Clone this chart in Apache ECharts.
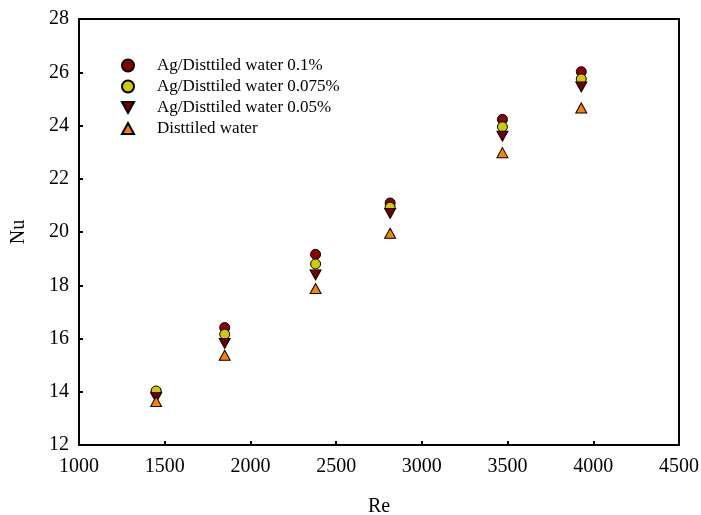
<!DOCTYPE html>
<html>
<head>
<meta charset="utf-8">
<script src="https://cdn.jsdelivr.net/npm/echarts@6/dist/echarts.min.js"></script>
<style>html,body{margin:0;padding:0;background:#fff}#c{width:701px;height:515px}</style>
</head>
<body>
<div id="c"></div>
<script>
const seriesNames = ['Ag/Disttiled water 0.1%', 'Ag/Disttiled water 0.075%', 'Ag/Disttiled water 0.05%', 'Disttiled water'];
const re = [1450, 1850, 2380, 2815, 3470, 3930];
const nu01 = [14.0, 16.41, 19.16, 21.09, 24.23, 26.02];
const nu0075 = [14.03, 16.16, 18.80, 20.93, 23.95, 25.75];
const nu005 = [13.78, 15.81, 18.39, 20.70, 23.60, 25.45];
const nuWater = [13.63, 15.37, 17.88, 19.95, 22.98, 24.66];
const xTicks = [1000, 1500, 2000, 2500, 3000, 3500, 4000, 4500];
const yTicks = [12, 14, 16, 18, 20, 22, 24, 26, 28];

const font = 'Liberation Serif, Times New Roman, serif';
const pair = arr => re.map((x, i) => [x, arr[i]]);
const downTri = 'path://M0,0 L10,0 L5,9 Z';
const upTri = 'path://M5,0 L10,9 L0,9 Z';

const chart = echarts.init(document.getElementById('c'), null, {renderer: 'canvas'});
const axisCommon = {
  axisLine: {show: true, onZero: false, lineStyle: {color: '#000', width: 2}},
  splitLine: {show: false},
};
chart.setOption({
  animation: false,
  backgroundColor: '#fff',
  grid: {left: 79, right: 22, top: 19, bottom: 70, containLabel: false, outerBoundsMode: 'none'},
  legend: {
    orient: 'vertical',
    left: 116, top: 52,
    itemWidth: 12, itemHeight: 12, itemGap: 4,
    data: seriesNames,
    textStyle: {fontFamily: font, fontSize: 17, color: '#000', padding: [0, 0, 0, 18]}
  },
  xAxis: [{
    type: 'value', min: xTicks[0], max: xTicks[xTicks.length - 1], interval: 500,
    name: 'Re', nameLocation: 'middle', nameGap: 52,
    nameTextStyle: {fontFamily: font, fontSize: 20, color: '#000'},
    axisTick: {show: true, inside: true, length: 4, lineStyle: {color: '#000', width: 2}},
    axisLabel: {fontFamily: font, fontSize: 20, color: '#000', margin: 12, formatter: v => String(v)},
    ...axisCommon
  }, {
    type: 'value', position: 'top', min: xTicks[0], max: xTicks[xTicks.length - 1],
    axisTick: {show: false}, axisLabel: {show: false}, ...axisCommon
  }],
  yAxis: [{
    type: 'value', min: yTicks[0], max: yTicks[yTicks.length - 1], interval: 2,
    name: 'Nu', nameLocation: 'middle', nameGap: 50, nameRotate: 90,
    nameTextStyle: {fontFamily: font, fontSize: 20, color: '#000'},
    axisTick: {show: true, inside: true, length: 4, lineStyle: {color: '#000', width: 2}},
    axisLabel: {fontFamily: font, fontSize: 20, color: '#000', margin: 10, formatter: v => String(v)},
    ...axisCommon
  }, {
    type: 'value', position: 'right', min: yTicks[0], max: yTicks[yTicks.length - 1],
    axisTick: {show: false}, axisLabel: {show: false}, ...axisCommon
  }],
  series: [
    {name: seriesNames[0], type: 'scatter', data: pair(nu01), symbol: 'circle', symbolSize: 10,
     itemStyle: {color: '#8b0000', borderColor: '#000', borderWidth: 1, opacity: 1}},
    {name: seriesNames[1], type: 'scatter', data: pair(nu0075), symbol: 'circle', symbolSize: 10,
     itemStyle: {color: '#cccc00', borderColor: '#000', borderWidth: 1, opacity: 1}},
    {name: seriesNames[2], type: 'scatter', data: pair(nu005), symbol: downTri, symbolSize: [11, 10],
     itemStyle: {color: '#700000', borderColor: '#000', borderWidth: 1, opacity: 1}},
    {name: seriesNames[3], type: 'scatter', data: pair(nuWater), symbol: upTri, symbolSize: [11, 10],
     itemStyle: {color: '#ff8000', borderColor: '#000', borderWidth: 1, opacity: 1}}
  ]
});
</script>
</body>
</html>
